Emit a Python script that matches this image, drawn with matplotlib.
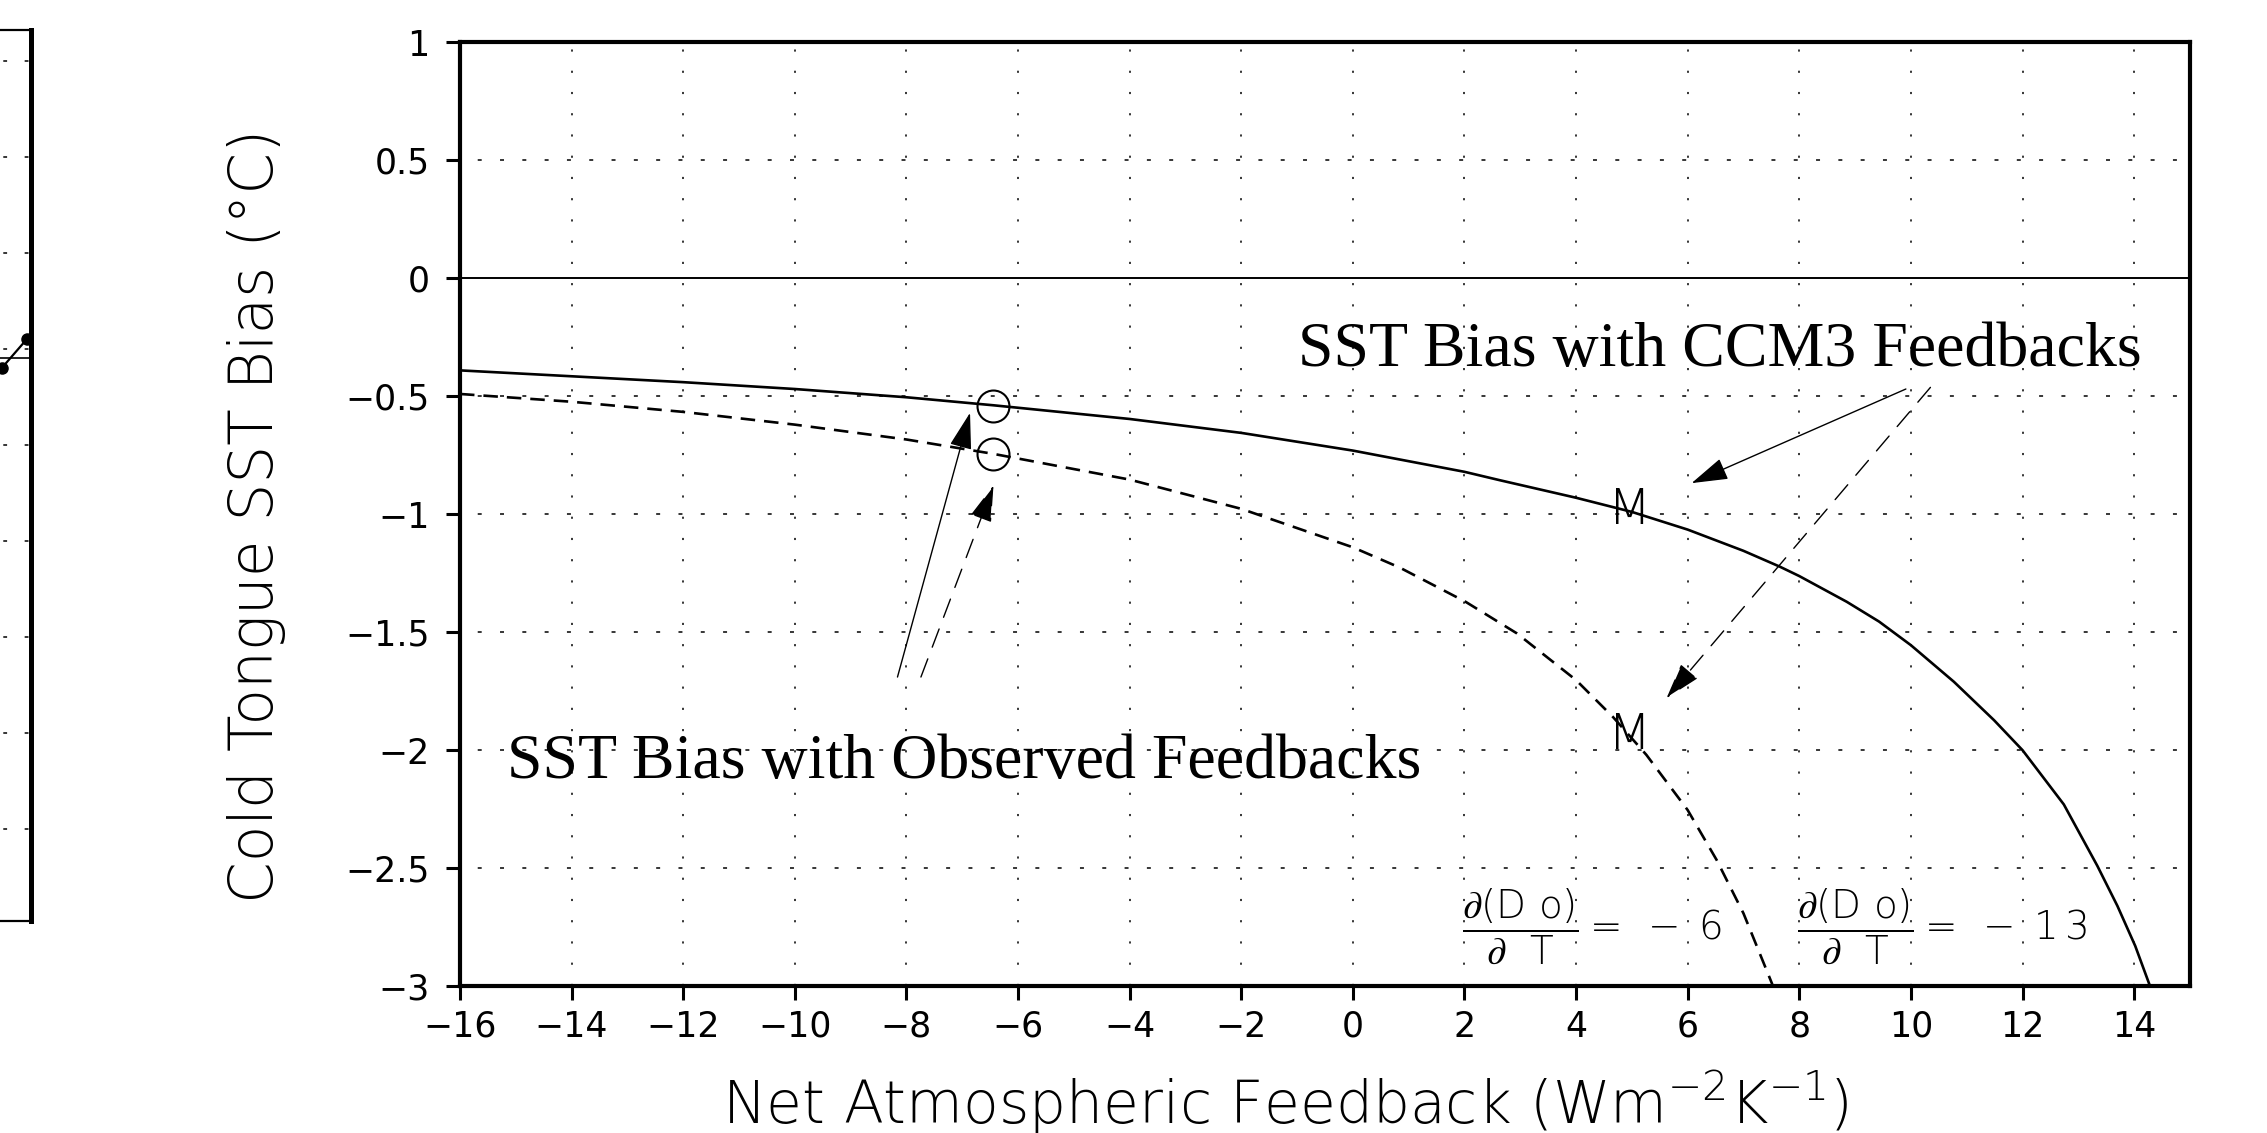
import matplotlib
matplotlib.use("Agg")
import matplotlib.pyplot as plt

plt.rcParams['font.family'] = ['DejaVu Sans']
plt.rcParams['mathtext.fontset'] = 'custom'
plt.rcParams['mathtext.rm'] = 'DejaVu Sans:light'
plt.rcParams['mathtext.it'] = 'DejaVu Sans:light'
plt.rcParams['mathtext.sf'] = 'DejaVu Sans:light'
plt.rcParams['mathtext.fallback'] = 'stix'

# SST bias with CCM3 feedbacks (solid)
ccm3_x = [-16, -14, -12, -10, -8, -6.44, -4, -2, 0, 2, 2.64, 4, 5, 6, 7, 7.65,
          8, 8.85, 9.43, 10, 10.77, 11.49, 12, 12.74, 13.34, 13.7, 14.02,
          14.3]
ccm3_y = [-0.39, -0.415, -0.44, -0.469, -0.504, -0.538, -0.596, -0.655, -0.73,
          -0.82, -0.856, -0.93, -0.99, -1.065, -1.155, -1.222, -1.262, -1.371,
          -1.455, -1.555, -1.71, -1.873, -2.0, -2.23, -2.49, -2.66, -2.83,
          -3.01]

# SST bias with observed feedbacks (dashed)
obs_x = [-16, -14, -12, -10, -8, -6.44, -4, -2, 0, 0.84, 2.02, 2.94, 4, 4.66,
         5.26, 6, 6.52, 7, 7.51, 7.54]
obs_y = [-0.49, -0.523, -0.566, -0.62, -0.683, -0.744, -0.853, -0.977, -1.14,
         -1.226, -1.371, -1.505, -1.703, -1.859, -2.02, -2.254, -2.466,
         -2.692, -2.989, -3.01]

# observed ("O") and model ("M") feedback points
obs_pt_x = [-6.44, -6.44]
obs_pt_y = [-0.542, -0.744]
mod_pt_x = [4.95, 4.95]
mod_pt_y = [-0.983, -1.936]

# arrows: (tail, tip, style)
arrows = [((-8.16, -1.69), (-6.86, -0.57), '-'),
          ((-7.74, -1.69), (-6.44, -0.878), '--'),
          ((9.91, -0.469), (6.07, -0.868), '-'),
          ((10.35, -0.462), (5.62, -1.78), '--')]

xticks = list(range(-16, 15, 2))
yticks = [1, 0.5, 0, -0.5, -1, -1.5, -2, -2.5, -3]
ytick_labels = ['1', '0.5', '0', '−0.5', '−1', '−1.5', '−2', '−2.5', '−3']

# left neighbour panel (only its right edge is visible)
left_x = [-200, 1.7, 26.7]
left_y = [4.2, 4.80, 5.10]
left_ref = 4.9

fig = plt.figure(figsize=(22.67, 11.33), dpi=100)

ax0 = fig.add_axes([-0.1, 0.187, 0.1137, 0.7865])
ax0.set_xlim(-226.7, 31)
ax0.set_ylim(-0.96, 8.32)
for k in range(9):
    ax0.axhline(k, color='k', lw=1.1, linestyle=(11.2, (2.5, 11.5)))
ax0.axhline(left_ref, color='k', lw=1.2)
ax0.plot(left_x, left_y, color='k', lw=1.6, marker='o', ms=8)
ax0.set_xticks([])
ax0.set_yticks([])
ax0.spines['right'].set_linewidth(3.6)
ax0.spines['top'].set_linewidth(1.6)
ax0.spines['bottom'].set_linewidth(1.6)

ax = fig.add_axes([0.2029, 0.1297, 0.7631, 0.8328])
ax.set_xlim(-16, 15)
ax.set_ylim(-3, 1)

for xv in xticks[1:]:
    ax.axvline(xv, color='k', lw=1.1, linestyle=(0, (1.4, 12.5)), zorder=1)
for yv in yticks[1:-1]:
    if yv != 0:
        ax.axhline(yv, color='k', lw=1.1, linestyle=(3, (2.6, 12)), zorder=1)
ax.axhline(0, color='k', lw=1.4, zorder=2)

ax.plot(ccm3_x, ccm3_y, color='k', lw=1.9, zorder=3)
ax.plot(obs_x, obs_y, color='k', lw=1.9, linestyle=(0, (5.5, 3.4)), zorder=3)

ax.plot(obs_pt_x, obs_pt_y, linestyle='none', marker='o', ms=23,
        mfc='none', mec='k', mew=1.5, zorder=4)
for mx, my in zip(mod_pt_x, mod_pt_y):
    ax.text(mx, my, 'M', ha='center', va='center', fontsize=36,
            family='DejaVu Sans', fontweight='light', zorder=4)

for tail, tip, ls in arrows:
    ax.annotate('', xy=tip, xytext=tail,
                arrowprops=dict(arrowstyle='-|>,head_length=2.3,head_width=0.7',
                                mutation_scale=10, color='k', lw=1.0,
                                linestyle=ls if ls == '-' else (0, (14, 9)),
                                shrinkA=0, shrinkB=0))

ax.text(-0.98, -0.37, 'SST Bias with CCM3 Feedbacks', fontsize=46,
        family='Liberation Serif', ha='left', va='baseline')
ax.text(-15.16, -2.12, 'SST Bias with Observed Feedbacks', fontsize=46,
        family='Liberation Serif', ha='left', va='baseline')

ax.text(1.95, -2.80,
        r'$\dfrac{\partial(\mathrm{D\ o})}{\partial\ \ \mathrm{T}}=\;-\;6$',
        fontsize=28, ha='left', va='baseline')
ax.text(7.96, -2.80,
        r'$\dfrac{\partial(\mathrm{D\ o})}{\partial\ \ \mathrm{T}}=\;-\;1\,3$',
        fontsize=28, ha='left', va='baseline')

ax.set_xticks(xticks)
ax.set_xticklabels(['−' + str(-v) if v < 0 else str(v) for v in xticks])
ax.set_yticks(yticks)
ax.set_yticklabels(ytick_labels)
ax.tick_params(axis='both', direction='out', length=10, width=2.2,
               labelsize=25, top=False, right=False)
ax.tick_params(axis='x', pad=7)
ax.tick_params(axis='y', pad=12)
for s in ax.spines.values():
    s.set_linewidth(3.0)

fig.text(0.113, 0.5446, 'Cold Tongue SST Bias (°C)', rotation=90,
         ha='center', va='center', fontsize=43, family='DejaVu Sans',
         fontweight='light')
fig.text(0.567, 0.0088, r'Net Atmospheric Feedback (Wm$^{-2}$K$^{-1}$)',
         ha='center', va='baseline', fontsize=42, family='DejaVu Sans',
         fontweight='light')

fig.savefig('out.png', dpi=100)
